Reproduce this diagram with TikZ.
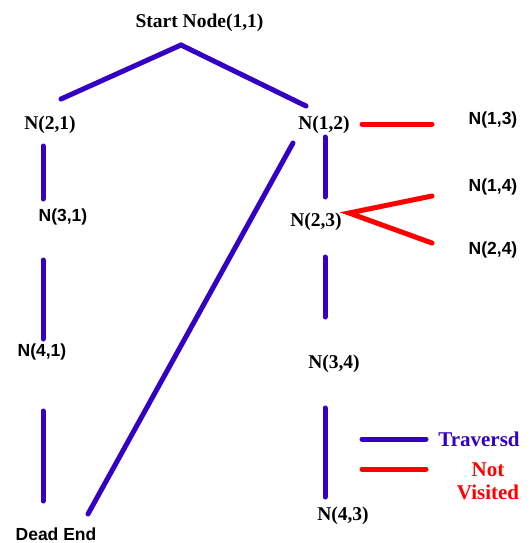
\documentclass[tikz,border=0pt]{standalone}
\usepackage{fontspec}
\setmainfont{Liberation Serif}
\newfontfamily\arialfont{Liberation Sans}
\definecolor{trav}{RGB}{51,0,196}
\definecolor{notv}{RGB}{255,0,0}
\begin{document}
\begin{tikzpicture}[x=1pt,y=-1pt,
  serifnode/.style={font=\fontsize{19.5}{22}\selectfont\bfseries, inner sep=0pt},
  sansnode/.style={font=\fontsize{17.5}{20}\arialfont\bfseries, inner sep=0pt},
  legendtext/.style={font=\fontsize{21}{24}\selectfont\bfseries, inner sep=0pt, align=center},
  travline/.style={draw=trav, line width=5pt, line cap=round},
  notline/.style={draw=notv, line width=5pt, line cap=round, line join=miter}]
\useasboundingbox (0,0) rectangle (530,543);
% nodes
\node[serifnode] (s11) at (199.5,23) {Start Node(1,1)};
\node[serifnode] (n21) at (50,125) {N(2,1)};
\node[serifnode] (n12) at (324,125) {N(1,2)};
\node[sansnode] (n13) at (493,120) {N(1,3)};
\node[sansnode] (n31) at (63,217) {N(3,1)};
\node[serifnode] (n23) at (316,222) {N(2,3)};
\node[sansnode] (n14) at (493,187) {N(1,4)};
\node[sansnode] (n24) at (493,250) {N(2,4)};
\node[sansnode] (n41) at (42,352) {N(4,1)};
\node[serifnode] (n34) at (334,364) {N(3,4)};
\node[serifnode] (n43) at (343,516) {N(4,3)};
\node[sansnode] (dead) at (56,534) {Dead End};
\node[legendtext, text=trav] (ltrav) at (479,439) {Traversd};
\node[legendtext, text=notv] (lnot) at (488,481) {Not\\[-1pt]Visited};
% connector endpoints
\coordinate (apex) at (181,45);
\coordinate (a21) at (61,99);
\coordinate (a12) at (306,106);
\coordinate (b21) at (43,146);
\coordinate (c31) at (43,199);
\coordinate (b31) at (43,260);
\coordinate (c41) at (43,339);
\coordinate (b41) at (43,411);
\coordinate (cdead) at (43,501);
\coordinate (d12) at (293,143);
\coordinate (ddead) at (88,514);
\coordinate (v12) at (325,137);
\coordinate (v23) at (325,197);
\coordinate (w23) at (325,257);
\coordinate (w34) at (325,317);
\coordinate (u34) at (325,408);
\coordinate (u43) at (325,497);
\coordinate (r12) at (362,124);
\coordinate (r13) at (432,124);
\coordinate (r23) at (349,213);
\coordinate (r14) at (432,196);
\coordinate (r24) at (432,243);
\coordinate (lt1) at (362,439);
\coordinate (lt2) at (426,439);
\coordinate (ln1) at (362,469);
\coordinate (ln2) at (426,469);
% traversed connectors
\draw[travline] (a21) -- (apex) -- (a12);
\draw[travline] (b21) -- (c31);
\draw[travline] (b31) -- (c41);
\draw[travline] (b41) -- (cdead);
\draw[travline] (d12) -- (ddead);
\draw[travline] (v12) -- (v23);
\draw[travline] (w23) -- (w34);
\draw[travline] (u34) -- (u43);
% not visited connectors
\draw[notline] (r12) -- (r13);
\draw[notline] (r14) -- (r23) -- (r24);
% legend
\draw[travline] (lt1) -- (lt2);
\draw[notline] (ln1) -- (ln2);
\end{tikzpicture}
\end{document}
